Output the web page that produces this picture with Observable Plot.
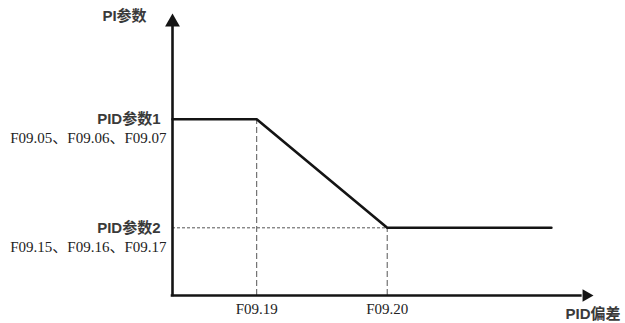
<!DOCTYPE html>
<html>
<head>
<meta charset="utf-8">
<script src="https://cdn.jsdelivr.net/npm/d3@7"></script>
<script src="https://cdn.jsdelivr.net/npm/@observablehq/plot@0.6"></script>
<style>
  html, body { margin: 0; padding: 0; background: #ffffff; }
  #chart svg { display: block; }
</style>
</head>
<body>
<div id="chart"></div>
<script>
// ---- data (abstract units: PID deviation on x, PI parameter on y) ----
const curveX = [0, 20, 51, 90];          // breakpoints of the PI-parameter curve
const curveY = [62.5, 62.5, 24, 24];
const xTickValues = [20, 51];
const xTickLabels = ["F09.19", "F09.20"];
const yLevels = [62.5, 24];
const yLabels = ["PID参数1", "PID参数2"];
const yCodes = ["F09.05、F09.06、F09.07", "F09.15、F09.16、F09.17"];
const axisMax = 100;
const xTitle = "PID偏差";
const yTitle = "PI参数";

const curve = curveX.map((x, i) => ({x, y: curveY[i]}));
const sans = "'Liberation Sans', Arial, 'Noto Sans CJK SC', sans-serif";
const serif = "'Liberation Serif', 'Times New Roman', 'Noto Sans CJK SC', serif";
const ink = "#141414";

const chart = Plot.plot({
  width: 625,
  height: 323,
  marginLeft: 172,
  marginRight: 32,
  marginTop: 13,
  marginBottom: 28,
  x: {domain: [0, axisMax], axis: null},
  y: {domain: [0, axisMax], axis: null},
  style: {background: "#ffffff", overflow: "visible"},
  marks: [
    // dashed guides
    Plot.ruleX(xTickValues, {x: d => d, y1: 0, y2: (d, i) => yLevels[i], stroke: "#555", strokeWidth: 1, strokeDasharray: "6,3"}),
    Plot.ruleY([yLevels[1]], {y: d => d, x1: 0, x2: xTickValues[1], stroke: "#555", strokeWidth: 1, strokeDasharray: "3,2"}),
    // curve
    Plot.line(curve, {x: "x", y: "y", stroke: ink, strokeWidth: 2.6}),
    // axes
    Plot.ruleY([0], {x1: 0, x2: axisMax * 0.97, stroke: ink, strokeWidth: 2.6, strokeLinecap: "square"}),
    Plot.ruleX([0], {y1: 0, y2: axisMax * 0.96, stroke: ink, strokeWidth: 2.6, strokeLinecap: "square"}),
    Plot.dot([axisMax], {x: d => d, y: 0, symbol: "triangle", r: 4.7, rotate: 90, dx: -7.3, fill: ink, stroke: null}),
    Plot.dot([axisMax], {x: 0, y: d => d, symbol: "triangle", r: 5.5, dy: 8.6, fill: ink, stroke: null}),
    // axis titles
    Plot.text([yTitle], {x: 0, y: axisMax, text: d => d, dx: -48, dy: 3, fontSize: 15, fontWeight: "bold", fontFamily: sans, fill: "#3a3a3a"}),
    Plot.text([xTitle], {x: axisMax, y: 0, text: d => d, textAnchor: "end", dx: 27, dy: 19, fontSize: 15, fontWeight: "bold", fontFamily: sans, fill: "#3a3a3a"}),
    // y-level labels
    Plot.text(yLabels, {x: 0, y: (d, i) => yLevels[i], text: d => d, textAnchor: "end", dx: -12, fontSize: 15, fontWeight: "bold", fontFamily: sans, fill: "#3a3a3a"}),
    Plot.text(yCodes, {x: 0, y: (d, i) => yLevels[i], text: d => d, textAnchor: "end", dx: -6, dy: 19, fontSize: 15, fontFamily: serif, fill: "#222"}),
    // x tick labels
    Plot.text(xTickLabels, {x: (d, i) => xTickValues[i], y: 0, text: d => d, dy: 14, fontSize: 15, fontFamily: serif, fill: "#222"})
  ]
});
document.getElementById("chart").appendChild(chart);
</script>
</body>
</html>
